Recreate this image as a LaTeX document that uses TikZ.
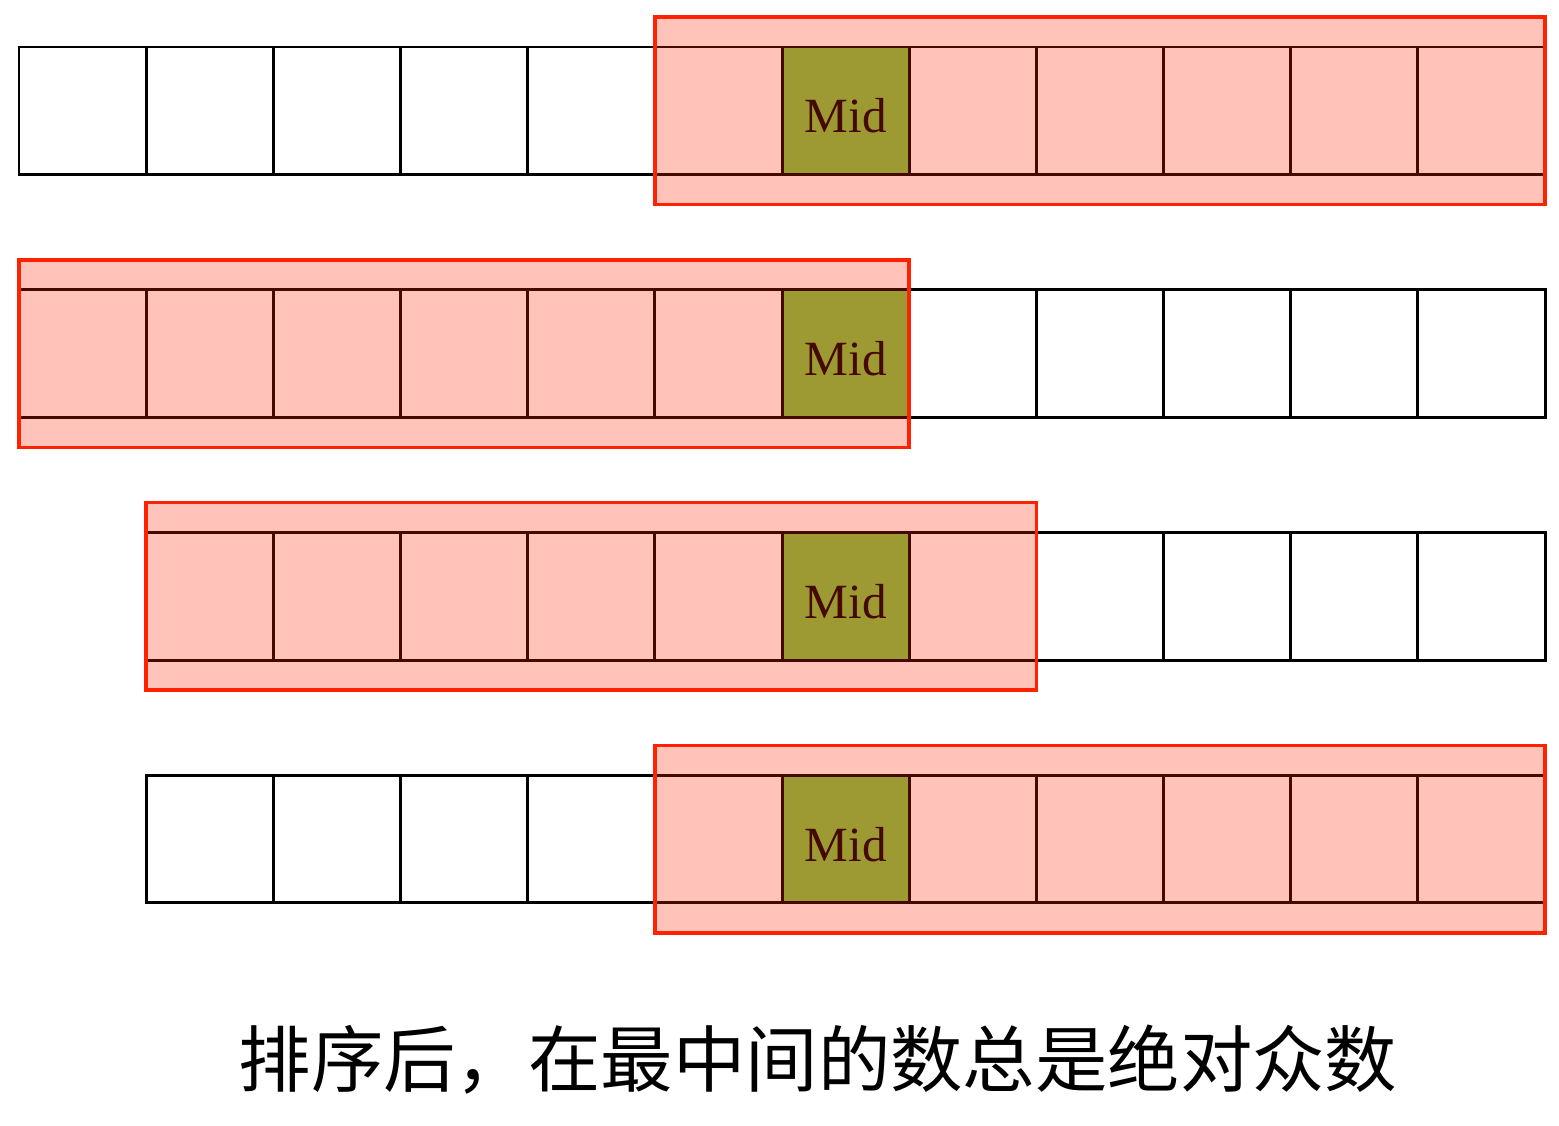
\documentclass[tikz,border=0pt]{standalone}
\usepackage{fontspec}
\setmainfont{Liberation Serif}
\newfontfamily\cjk{Noto Sans CJK SC}
\usetikzlibrary{calc}
\definecolor{midgreen}{RGB}{122,199,70}
\definecolor{winred}{RGB}{255,34,0}
\tikzset{
  cell/.style={draw, line width=0.85pt, minimum width=1.2717cm, minimum height=1.275cm,
    inner sep=0pt, outer sep=0pt, anchor=north west, font=\fontsize{14}{14}\selectfont},
  midcell/.style={cell, fill=midgreen, text height=0.44cm, text depth=0pt},
  window/.style={draw=winred, line width=1pt, fill=winred, fill opacity=0.27}
}
\begin{document}
\begin{tikzpicture}
\useasboundingbox (0,0) rectangle (15.59,-11.26);
% rows of cells: row / first cell / first and last cell of the window
\foreach \row/\first/\wa/\wb in {1/0/5/11, 2/0/0/6, 3/1/1/7, 4/1/5/11} {
  \foreach \i in {\first,...,11} {
    \ifnum\i=6
      \node[midcell] (c\row-\i) at ({0.19+\i*1.2717}, {-0.47-(\row-1)*2.428}) {Mid};
    \else
      \node[cell] (c\row-\i) at ({0.19+\i*1.2717}, {-0.47-(\row-1)*2.428}) {};
    \fi
  }
  % half-window over the cells
  \draw[window] ($(c\row-\wa.north west)+(0,0.3)$) rectangle ($(c\row-\wb.south east)+(0,-0.3)$);
}
\node[font=\cjk\fontsize{20.6}{20.6}\selectfont] (caption) at (8.18,-10.6) {排序后，在最中间的数总是绝对众数};
\end{tikzpicture}
\end{document}
